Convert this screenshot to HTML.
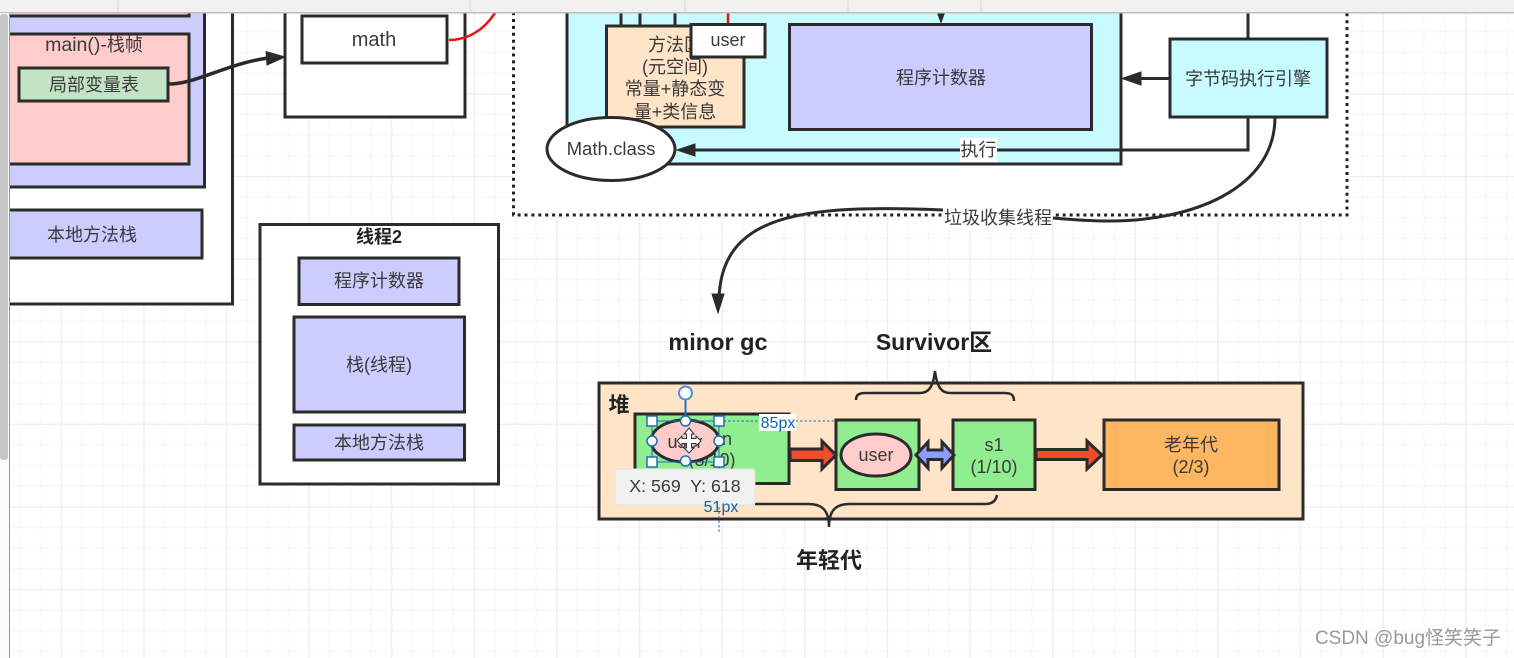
<!DOCTYPE html>
<html><head><meta charset="utf-8"><style>
html,body{margin:0;padding:0;background:#fff;width:1514px;height:658px;overflow:hidden}
svg{display:block;filter:blur(.35px)}
text{font-family:"Liberation Sans","Noto Sans CJK SC",sans-serif;font-size:18px;fill:#3a3a3a;text-anchor:middle}
.b{font-weight:bold;fill:#222}
.s{stroke:#2b2b2b;stroke-width:3}
.l{fill:none;stroke:#2b2b2b;stroke-width:3}
.h{fill:#fff;stroke:#1f6fb5;stroke-width:1.5}
.d{fill:#0a64b4;font-size:16px}
</style></head><body>
<svg width="1514" height="658" viewBox="0 0 1514 658" xmlns="http://www.w3.org/2000/svg">
<defs>
<pattern id="g" patternUnits="userSpaceOnUse" x="60.7" y="93.3" width="82.6" height="82.6">
<path d="M0 .5H82.6M0 21.15H82.6M0 41.8H82.6M0 62.45H82.6M.5 0V82.6M21.15 0V82.6M41.8 0V82.6M62.45 0V82.6" stroke="#f8f8f8" stroke-width="1.2" fill="none"/>
<path d="M0 .5H82.6M.5 0V82.6" stroke="#eeeeee" stroke-width="1.5" fill="none"/>
</pattern>
</defs>
<rect width="1514" height="658" fill="#fff"/>
<rect x="10" y="13" width="1504" height="645" fill="url(#g)"/>

<!-- left thread -->
<rect x="8" y="5" width="224.500" height="299" fill="#fff" class="s"/>
<rect x="8" y="5" width="196.500" height="182" fill="#ccccff" class="s"/>
<rect x="8" y="5" width="181" height="11" fill="#ffcccc" class="s"/>
<rect x="8" y="34" width="181" height="130" fill="#ffcccc" class="s"/>
<text x="94" y="51"><tspan style="font-size:19.5px">main()-</tspan>栈帧</text>
<rect x="19" y="68" width="149" height="33" fill="#c3e3c5" class="s"/>
<text x="94" y="91">局部变量表</text>
<rect x="8" y="210" width="194" height="48" fill="#ccccff" class="s"/>
<text x="92" y="241">本地方法栈</text>

<!-- math box -->
<rect x="285" y="5" width="180" height="112" fill="#fff" class="s"/>
<rect x="302" y="16" width="145" height="47" fill="#fff" class="s"/>
<text x="374" y="46" style="font-size:20px">math</text>
<path d="M449 40C470 40 485 28 495 13" fill="none" stroke="#f01010" stroke-width="2.500"/>
<path d="M168 84C197 84 225 64 268 58" fill="none" stroke="#2b2b2b" stroke-width="3.500"/>
<path d="M285 57L266 51.500L267 65Z" fill="#2b2b2b" stroke="#2b2b2b"/>

<!-- dotted container -->
<rect x="513.500" y="5" width="833.500" height="210" fill="#fff" stroke="#222" stroke-width="3" stroke-dasharray="3 3.900"/>
<rect x="567" y="5" width="554" height="159" fill="#c8fbff" class="s"/>
<path d="M621 13V26M640 13V26M675 13V26" class="l"/>
<path d="M728 13V25" fill="none" stroke="#f01010" stroke-width="2.500"/>
<path d="M941 13V20" class="l"/>
<path d="M937 13L945 13L941 24Z" fill="#2b2b2b"/>
<rect x="606.500" y="26" width="137.500" height="101" fill="#ffe4c8" class="s"/>
<text x="675" y="51">方法区</text>
<text x="675" y="73">(元空间)</text>
<text x="675" y="95">常量+静态变</text>
<text x="675" y="118">量+类信息</text>
<rect x="691" y="24.500" width="74" height="32.500" fill="#fff" class="s"/>
<text x="728" y="46">user</text>
<rect x="789.500" y="24.500" width="302" height="105" fill="#ccccff" class="s"/>
<text x="941" y="84">程序计数器</text>
<rect x="1170" y="39" width="157" height="78" fill="#c8fbff" class="s"/>
<text x="1248" y="85">字节码执行引擎</text>
<path d="M1248 13V39M1248 117V150H690" class="l"/>
<path d="M1170 78.500H1135" class="l"/>
<path d="M1122 78.500L1141 72V85Z" fill="#2b2b2b" stroke="#2b2b2b"/>
<ellipse cx="611" cy="149" rx="64" ry="31.500" fill="#fff" class="s"/>
<text x="611" y="155" style="font-size:18.600px">Math.class</text>
<path d="M677 150L695 144V156Z" fill="#2b2b2b" stroke="#2b2b2b"/>
<rect x="960" y="138" width="37" height="24" fill="#fff"/>
<text x="978.500" y="156">执行</text>

<!-- gc curve -->
<path d="M1275 117C1275 190 1190 221 1110 221C1085 221 1065 219 1053 218" class="l"/>
<path d="M943 210C800 204 722 215 719 298" class="l"/>
<path d="M718 313L712 294H724Z" fill="#2b2b2b" stroke="#2b2b2b"/>
<rect x="944" y="206" width="108" height="24" fill="#fff"/>
<text x="998" y="224">垃圾收集线程</text>

<!-- thread 2 -->
<rect x="260" y="224.500" width="238.500" height="259.500" fill="#fff" class="s"/>
<text class="b" x="379" y="243">线程2</text>
<rect x="299" y="258" width="160" height="46.500" fill="#ccccff" class="s"/>
<text x="379" y="287">程序计数器</text>
<rect x="294" y="317" width="170.500" height="95" fill="#ccccff" class="s"/>
<text x="379" y="371">栈(线程)</text>
<rect x="294" y="425" width="170.500" height="35" fill="#ccccff" class="s"/>
<text x="379" y="449">本地方法栈</text>

<!-- labels -->
<text class="b" x="718" y="350" style="font-size:23.500px">minor gc</text>
<text class="b" x="934" y="350" style="font-size:23px">Survivor区</text>
<text class="b" x="829" y="568" style="font-size:22px">年轻代</text>

<!-- heap -->
<rect x="599" y="383" width="704" height="136" fill="#ffe4c8" class="s"/>
<text class="b" x="619" y="412" style="font-size:21px">堆</text>
<path d="M856 400C856 394 860 393 866 393H920C928 393 933 388 935 371C937 388 942 393 950 393H1004C1010 393 1014 394 1014 401" fill="none" stroke="#2b2b2b" stroke-width="2.500"/>
<path d="M755 504H808C820 504 829 508 829 527C829 508 838 504 850 504H985C992 504 996 501 997 495" fill="none" stroke="#2b2b2b" stroke-width="2.500"/>
<rect x="635" y="414" width="154" height="69.500" fill="#90ee90" class="s"/>
<text x="712" y="445">eden</text>
<text x="712" y="466">(8/10)</text>
<rect x="836" y="420" width="83" height="69.500" fill="#90ee90" class="s"/>
<rect x="953" y="420" width="82" height="69.500" fill="#90ee90" class="s"/>
<text x="994" y="451">s1</text>
<text x="994" y="473">(1/10)</text>
<rect x="1104" y="420" width="175" height="69.500" fill="#ffb660" class="s"/>
<text x="1191" y="451">老年代</text>
<text x="1191" y="473">(2/3)</text>
<ellipse cx="876" cy="455" rx="35" ry="21" fill="#ffcccc" class="s"/>
<text x="876" y="461">user</text>
<path d="M790 449H822V441L836 455L822 469V460.500H790Z" fill="#f44a2e" class="s"/>
<path d="M1036 449.500H1087V441L1102 455L1087 469V459.500H1036Z" fill="#f44a2e" class="s"/>
<path d="M916 455L928 442V450H942V442L954 455L942 468V459.500H928V468Z" fill="#8c9cff" class="s"/>

<!-- selected ellipse and handles -->
<ellipse cx="685" cy="441" rx="34" ry="21" fill="#ffcccc" class="s"/>
<text x="685" y="448">user</text>
<rect x="652" y="421" width="67" height="41" fill="none" stroke="#1f6fb5" stroke-width="1"/>
<path d="M685.500 399V421" stroke="#1f6fb5" stroke-width="2"/>
<path d="M719 421H836" stroke="#1f6fb5" stroke-width="1" stroke-dasharray="2.500 2"/>
<path d="M719 462V532" stroke="#1f6fb5" stroke-width="1" stroke-dasharray="2.500 2"/>
<circle cx="685.500" cy="393" r="6.500" fill="#fff" stroke="#4a90d8" stroke-width="2"/>
<rect x="647" y="416" width="10" height="10" class="h"/>
<rect x="714" y="416" width="10" height="10" class="h"/>
<rect x="647" y="457" width="10" height="10" class="h"/>
<rect x="714" y="457" width="10" height="10" class="h"/>
<circle cx="685.500" cy="421" r="5" class="h"/>
<circle cx="652" cy="441" r="5" class="h"/>
<circle cx="719" cy="441" r="5" class="h"/>
<circle cx="685.500" cy="461" r="5" class="h"/>
<path d="M689 428L694 434H691.500V438.500H696V436L701 441L696 446V443.500H691.500V448H694L689 453L684 448H686.500V443.500H682V446L677 441L682 436V438.500H686.500V434H684Z" fill="#fff" stroke="#333" stroke-width="1"/>
<rect x="759" y="414" width="37" height="17" fill="#fff"/>
<text class="d" x="778" y="428">85px</text>
<rect x="615" y="469" width="140" height="36" rx="3" fill="#f1f1f1" stroke="#e2e2e2"/>
<text x="685" y="492" style="font-size:17.800px" xml:space="preserve">X: 569  Y: 618</text>
<text class="d" x="721" y="512">51px</text>

<!-- watermark -->
<text x="1408" y="644" style="font-size:19px;fill:#999">CSDN @bug怪笑笑子</text>

<!-- chrome -->
<rect x="0" y="0" width="1514" height="12.500" fill="#f1f1f1"/>
<rect x="0" y="12" width="1514" height="1.500" fill="#bdbdbd"/>
<path d="M118 0V12M470 0V12M685 0V12M848 0V12M981 0V12" stroke="#dcdcdc" stroke-width="1"/>
<rect x="0" y="13" width="9.500" height="645" fill="#fbfbfb"/>
<rect x="0" y="14" width="8" height="446" rx="3" fill="#c6c6c6"/>
<rect x="9" y="13" width="1" height="645" fill="#9a9a9a"/>
</svg>
</body></html>
